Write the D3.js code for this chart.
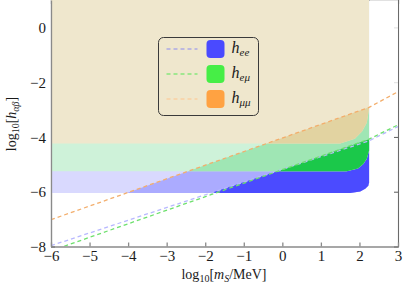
<!DOCTYPE html>
<html><head><meta charset="utf-8">
<script src="https://cdn.jsdelivr.net/npm/d3@7"></script>
<style>body{margin:0;background:#fff} svg{display:block} text{fill:#1a1a1a;font-family:"Liberation Serif","DejaVu Serif",serif}</style>
</head><body><svg id="c" width="405" height="286"></svg>
<script>
// ---- data ----
const xTicks = [-6,-5,-4,-3,-2,-1,0,1,2,3];
const yTicks = [-8,-6,-4,-2,0];
const flavourLabels = ["ee","eμ","μμ"];
// lower edge of each excluded band (log10 mS, log10 h)
const boundEeX = [-6, 1.76, 2.02, 2.15, 2.23, 2.25];
const boundEeY = [-6.05, -6.05, -5.99, -5.89, -5.78, -5.65];
const boundEmX = [-6, 1.67, 1.96, 2.10, 2.19, 2.25];
const boundEmY = [-5.25, -5.25, -5.15, -4.99, -4.80, -4.49];
const boundMmX = [-6, 1.5, 1.88, 2.07, 2.19, 2.25];
const boundMmY = [-4.24, -4.24, -4.07, -3.79, -3.48, -2.95];
// dashed lines
const lineX   = [-6, 2.25, 3];
const lineEeY = [-7.97, -4.14, -3.62];
const lineEmY = [-8.16, -4.08, -3.56];
const lineMmY = [-7.02, -2.92, -2.35];

// ---- styles ----
const W = 405, H = 286;
const x = d3.scaleLinear([-6, 3], [51, 398]);
const y = d3.scaleLinear([-8, 1], [246.5, 0]);
const svg = d3.select("#c");
const defs = svg.append("defs");
const zip = (xs, ys) => xs.map((v, i) => [v, ys[i]]);

defs.append("clipPath").attr("id", "plot").append("rect")
  .attr("x", x(-6)).attr("y", 0).attr("width", x(3) - x(-6)).attr("height", y(-8));

const below = d3.area().x(d => x(d[0])).y0(y(-12)).y1(d => y(d[1]));
const above = d3.area().x(d => x(d[0])).y0(y(4)).y1(d => y(d[1]));
const lines = {ee: zip(lineX, lineEeY), em: zip(lineX, lineEmY), mm: zip(lineX, lineMmY)};
for (const k of Object.keys(lines)) {
  defs.append("clipPath").attr("id", "below-" + k).append("path").attr("d", below(lines[k]));
}

// frame: top & right axes (underneath fills)
const axisGray = "#6a6a6a";
const gR = svg.append("g").attr("transform", `translate(${x(3)},0)`)
  .call(d3.axisLeft(y).tickValues(yTicks).tickSize(4).tickFormat(""));
const gT = svg.append("g").attr("transform", `translate(0,${y(1)})`)
  .call(d3.axisBottom(x).tickValues(xTicks).tickSize(4).tickFormat(""));
const gLt = svg.append("g").attr("transform", `translate(${x(-6)},0)`)
  .call(d3.axisRight(y).tickValues(yTicks).tickSize(4).tickFormat(""));
[gR, gT, gLt].forEach(g => { g.selectAll("path,line").attr("stroke", axisGray).attr("stroke-width", 1.1); });

// ---- fills ----
const band = d3.area().x(d => x(d[0])).y0(y(4)).y1(d => y(d[1]));
const fills = svg.append("g").attr("clip-path", "url(#plot)");
const bands = [
  {pts: zip(boundEeX, boundEeY), light: "#d9d9fe", mid: "#ababff", dark: "#4b4bff", own: "ee"},
  {pts: zip(boundEmX, boundEmY), light: "#cef2d9", mid: "#9fe6b4", dark: "#1bc84a", own: "em"},
  {pts: zip(boundMmX, boundMmY), light: "#efe7cd", mid: "#e2d3a1", dark: null, own: "mm"}
];
bands.forEach(b => {
  const d = band(b.pts);
  fills.append("path").attr("d", d).attr("fill", b.light);
  fills.append("g").attr("clip-path", "url(#below-mm)").append("path").attr("d", d).attr("fill", b.mid);
  if (b.dark) fills.append("g").attr("clip-path", "url(#below-" + b.own + ")").append("path").attr("d", d).attr("fill", b.dark);
});

// white veils above each line, only right of the mass cut (fade the frame there)
defs.append("clipPath").attr("id", "veil").append("rect")
  .attr("x", x(2.25) + 0.5).attr("y", -5).attr("width", W).attr("height", H);
const veil = svg.append("g").attr("clip-path", "url(#veil)");
Object.values(lines).forEach(l => veil.append("path").attr("d", above(l)).attr("fill", "#fff").attr("fill-opacity", 0.42));

// ---- dashed lines ----
const lineGen = d3.line().x(d => x(d[0])).y(d => y(d[1]));
const dashG = svg.append("g").attr("clip-path", "url(#plot)");
const lineCols = {ee: "#b8b8ff", em: "#6ee06e", mm: "#f3ae6c"};
["mm", "ee", "em"].forEach(k => dashG.append("path").attr("d", lineGen(lines[k]))
  .attr("fill", "none").attr("stroke", lineCols[k]).attr("stroke-width", 1.3).attr("stroke-dasharray", "4,3"));

// ---- left & bottom axes ----
const fontSize = 15;
const gL = svg.append("g").attr("transform", `translate(${x(-6)},0)`)
  .call(d3.axisLeft(y).tickValues(yTicks).tickSize(0).tickPadding(5));
const gB = svg.append("g").attr("transform", `translate(0,${y(-8)})`)
  .call(d3.axisBottom(x).tickValues(xTicks).tickSizeInner(-4).tickSizeOuter(0).tickPadding(4));
[gL, gB].forEach(g => {
  g.attr("font-family", null).attr("font-size", null);
  g.selectAll("path,line").attr("stroke", "#8a8a8a").attr("stroke-width", 1.3);
  g.selectAll("text").style("font-size", fontSize + "px").attr("fill", "#1a1a1a");
});
gL.selectAll("text").attr("dy", "0.34em");

// ---- axis titles ----
const xt = svg.append("text").attr("x", 224).attr("y", 279).attr("text-anchor", "middle").style("font-size", "14px");
xt.append("tspan").text("log");
xt.append("tspan").style("font-size", "10px").attr("dy", 3).text("10");
xt.append("tspan").attr("dy", -3).text("[");
xt.append("tspan").attr("font-style", "italic").text("m");
xt.append("tspan").attr("font-style", "italic").style("font-size", "10px").attr("dy", 3).text("S");
xt.append("tspan").attr("dy", -3).text("/MeV]");

const yt = svg.append("text").attr("transform", "translate(16,124) rotate(-90)").attr("text-anchor", "middle").style("font-size", "14px");
yt.append("tspan").text("log");
yt.append("tspan").style("font-size", "10px").attr("dy", 3).text("10");
yt.append("tspan").attr("dy", -3).text("[");
yt.append("tspan").attr("font-style", "italic").text("h");
yt.append("tspan").attr("font-style", "italic").style("font-size", "10px").attr("dy", 3).text("αβ");
yt.append("tspan").attr("dy", -3).text("]");

// ---- legend ----
const legSquares = ["#4a4aff", "#46ee46", "#ffa242"];
const legDash = ["#8c8cf2", "#55e855", "#ffc68e"];
const lg = svg.append("g").attr("transform", "translate(158.5,37.5)");
lg.append("rect").attr("width", 100).attr("height", 78).attr("rx", 5)
  .attr("fill", "none").attr("stroke", "#3a3a3a").attr("stroke-width", 1);
flavourLabels.forEach((lab, i) => {
  const cy = 11.5 + i * 25;
  lg.append("line").attr("x1", 8).attr("x2", 39).attr("y1", cy).attr("y2", cy)
    .attr("stroke", legDash[i]).attr("stroke-width", 1.2).attr("stroke-dasharray", "4,3");
  lg.append("rect").attr("x", 48).attr("y", cy - 9).attr("width", 18).attr("height", 18).attr("rx", 4)
    .attr("fill", legSquares[i]);
  const t = lg.append("text").attr("x", 73).attr("y", cy + 4).style("font-size", "16px").attr("font-style", "italic");
  t.append("tspan").text("h");
  t.append("tspan").style("font-size", "11px").attr("dy", 3).text(lab);
});
</script></body></html>
